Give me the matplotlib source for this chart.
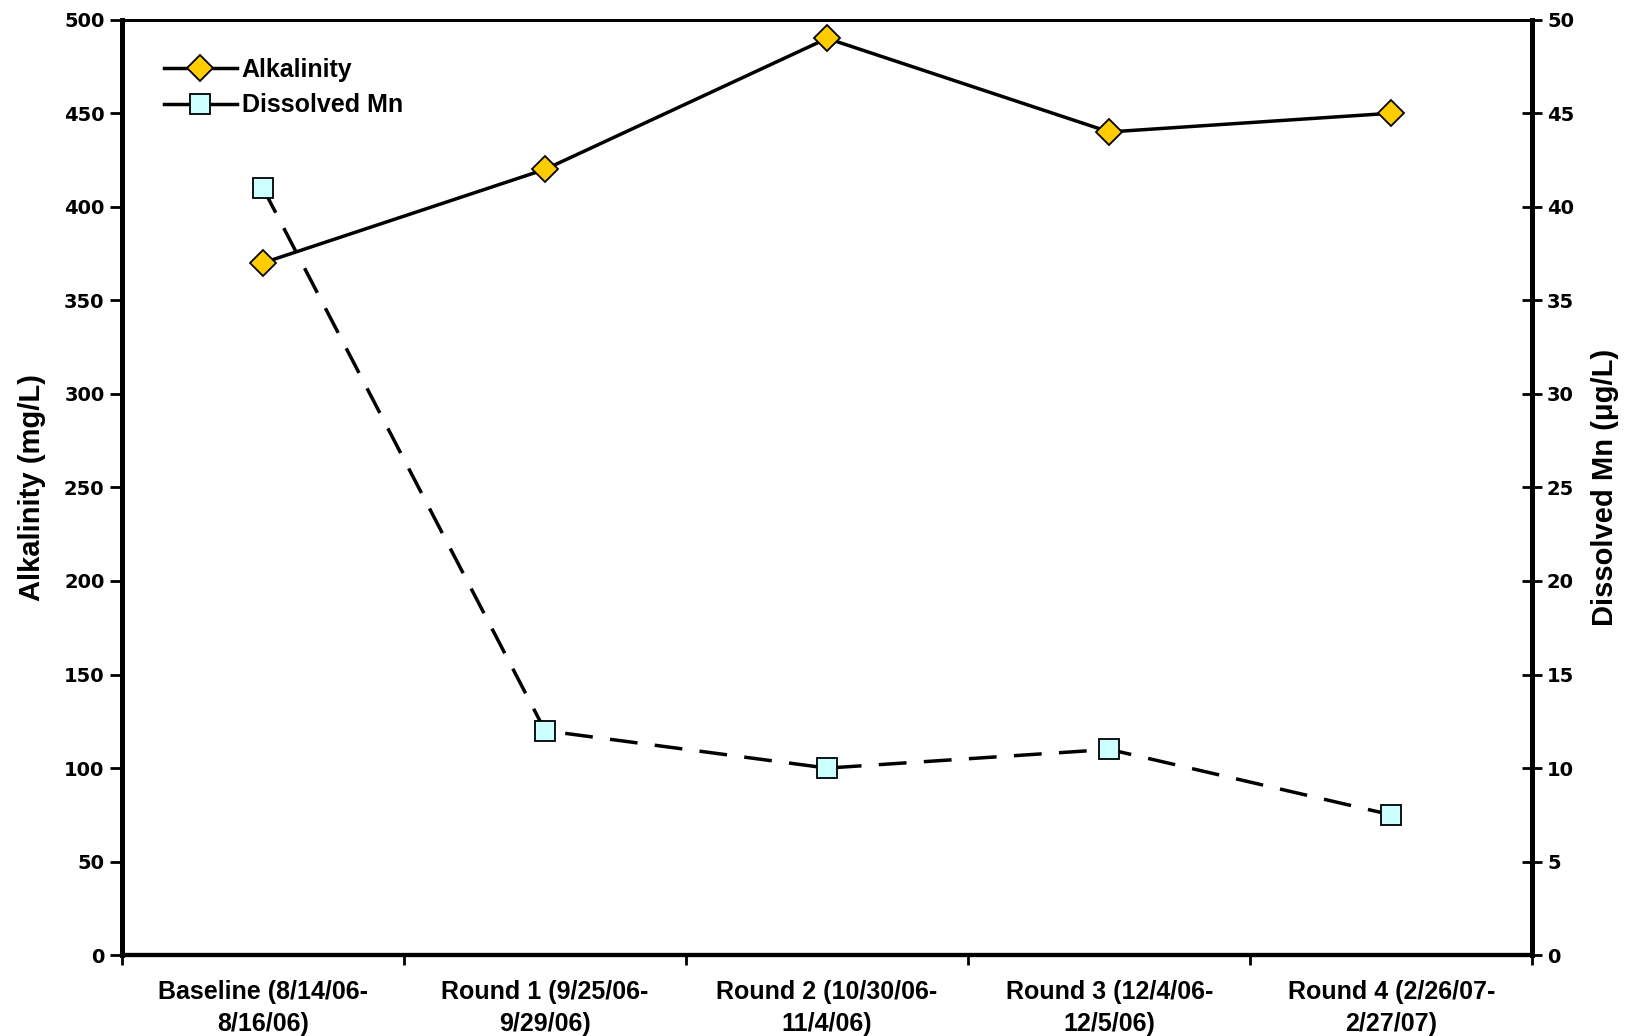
import matplotlib
matplotlib.use("Agg")
import matplotlib.pyplot as plt
from matplotlib.lines import Line2D
import numpy as np

categories = ["Baseline (8/14/06-\n8/16/06)", "Round 1 (9/25/06-\n9/29/06)",
              "Round 2 (10/30/06-\n11/4/06)", "Round 3 (12/4/06-\n12/5/06)",
              "Round 4 (2/26/07-\n2/27/07)"]
alkalinity = [370, 420, 490, 440, 450]
dissolved_mn = [41, 12, 10, 11, 7.5]
left_ticks = [0, 50, 100, 150, 200, 250, 300, 350, 400, 450, 500]
right_ticks = [0, 5, 10, 15, 20, 25, 30, 35, 40, 45, 50]

plt.rcParams['font.family'] = ['Liberation Sans', 'DejaVu Sans']

fig = plt.figure(figsize=(16.25, 10.36), dpi=100)
ax = fig.add_axes([0.075, 0.078, 0.868, 0.903])
ax2 = ax.twinx()

x = np.arange(len(categories))
diamond_style = dict(marker='D', markersize=13, markerfacecolor='#FFCC00',
                     markeredgecolor='black', markeredgewidth=1.3)
square_style = dict(marker='s', markersize=15, markerfacecolor='#CCFFFF',
                    markeredgecolor='black', markeredgewidth=1.3)
l1, = ax.plot(x, alkalinity, color='black', lw=2.5, zorder=3, **diamond_style)
l2, = ax2.plot(x, dissolved_mn, color='black', lw=2.5, linestyle=(0, (8, 5)),
               zorder=3, **square_style)

ax.set_xlim(-0.5, len(categories) - 0.5)
ax.set_ylim(0, 500)
ax2.set_ylim(0, 50)
ax.set_yticks(left_ticks)
ax2.set_yticks(right_ticks)
ax.set_xticks(np.arange(-0.5, len(categories), 1.0))
ax.set_xticklabels([])
ax.set_xticks(x, minor=True)
ax.set_xticklabels(categories, minor=True, fontsize=18, fontweight='bold', linespacing=1.4)
ax.tick_params(axis='x', which='minor', length=0, pad=18)
ax.tick_params(axis='x', which='major', direction='out', length=7, width=2)
ax.tick_params(axis='y', direction='out', length=9, width=2)
ax2.tick_params(axis='y', direction='inout', length=14, width=2)

for lab in ax.get_yticklabels() + ax2.get_yticklabels():
    lab.set_fontfamily('DejaVu Sans')
    lab.set_fontweight('bold')
    lab.set_fontsize(14)

for a in (ax, ax2):
    a.spines['top'].set_visible(True)
    a.spines['top'].set_linewidth(2)
    a.spines['bottom'].set_linewidth(3)
    a.spines['left'].set_linewidth(3.5)
    a.spines['right'].set_linewidth(3.5)

ax.set_ylabel('Alkalinity (mg/L)', fontsize=21, fontweight='bold', labelpad=13)
ax2.set_ylabel('Dissolved Mn (\u03bcg/L)', fontsize=21, fontweight='bold', labelpad=12)

h1 = Line2D([], [], color='black', lw=2.5, **diamond_style)
h2 = Line2D([], [], color='black', lw=2.5, **square_style)
leg = ax.legend([h1, h2], ['Alkalinity', 'Dissolved Mn'], loc='upper left',
                bbox_to_anchor=(0.014, 0.983), frameon=False,
                prop={'weight': 'bold', 'size': 18}, handlelength=2.9,
                handletextpad=0.2, labelspacing=0.45)
leg.set_zorder(10)

fig.savefig('out.png', dpi=100)
